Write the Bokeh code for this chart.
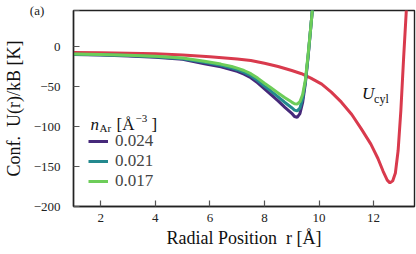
from bokeh.plotting import figure
from bokeh.models import Label, Legend, LegendItem, FixedTicker, Range1d
from bokeh.embed import file_html
from bokeh.resources import INLINE

# ---- data ----
r_atom = [1, 2, 3, 4, 5, 5.8, 6.4, 6.8, 7.0, 7.25, 7.5, 7.75, 8.0, 8.25, 8.5,
          8.75, 9.0, 9.1, 9.2, 9.3, 9.4, 9.5, 9.6, 9.7, 9.8]
u_024 = [-10, -10.6, -11.8, -13.3, -16, -21.5, -25.5, -29, -31, -34.5, -39, -45.5, -53, -60.5, -68,
         -76, -83.5, -87.5, -88.5, -84, -70, -46, -13, 25, 62]
u_021 = [-9.8, -10.3, -11.4, -12.8, -15.2, -19.7, -23.5, -27, -29, -32.3, -36.5, -42.5, -49.5, -56, -63,
         -70, -76.5, -79.5, -80.5, -77, -65, -44, -12, 25, 62]
u_017 = [-9.5, -10, -11, -12.3, -14.5, -18.5, -22, -25, -27, -30, -34, -39.5, -46, -52, -58,
         -64, -69.5, -71.5, -72, -69, -60, -42, -10, 25, 62]
r_cyl = [1, 2, 3, 4, 5, 6, 7, 7.5, 8, 8.5, 9, 9.36, 9.7, 10.1, 10.45, 10.82, 11.2, 11.55,
         11.9, 12.16, 12.35, 12.5, 12.6, 12.7, 12.8, 12.9, 13.0, 13.1, 13.2, 13.25]
u_cyl = [-7.5, -7.8, -8.3, -9, -10.5, -12.7, -15.5, -17.5, -21, -25, -30, -34, -39.5, -47, -57, -69.6,
         -85, -103, -122, -140, -156, -167, -170.5, -168, -158, -130, -80, -15, 45, 75]
densities = ["0.024", "0.021", "0.017"]
x_ticks = [2, 4, 6, 8, 10, 12]
y_ticks = [-200, -150, -100, -50, 0]
x_title = "Radial Position\u00a0\u00a0r [Å]"
y_title = "Conf.\u00a0\u00a0U(r)/kB [K]"
panel_tag = "(a)"

colors = {"0.024": "#46297a", "0.021": "#23898e", "0.017": "#6dcd59"}
red = "#d93a4d"
SERIF = "Liberation Serif"

p = figure(width=416, height=254, output_backend="svg", toolbar_location=None,
           x_range=Range1d(1, 13.5), y_range=Range1d(-200, 45),
           min_border_left=71, min_border_right=2, min_border_top=10, min_border_bottom=48)
p.grid.visible = False
p.background_fill_color = "white"
p.outline_line_color = "#222222"
p.outline_line_width = 1.4
p.outline_line_alpha = 1.0

for ax in (p.xaxis, p.yaxis):
    ax.axis_line_color = "#222222"
    ax.axis_line_width = 1.4
    ax.major_tick_in = 6
    ax.major_tick_out = 0
    ax.major_tick_line_color = "#555555"
    ax.major_tick_line_width = 1.2
    ax.minor_tick_line_color = None
    ax.major_label_text_font = SERIF
    ax.major_label_text_font_size = "13px"
    ax.major_label_text_color = "#222222"
    ax.axis_label_text_font = SERIF
    ax.axis_label_text_font_size = "18px"
    ax.axis_label_text_font_style = "normal"
    ax.axis_label_text_color = "#111111"
    ax.axis_label_standoff = 3

p.xaxis.ticker = FixedTicker(ticks=x_ticks)
p.xaxis.major_label_standoff = 7
p.xaxis.axis_label = x_title

# the panel tag "(a)" sits at the top-left corner, beside the top of the y axis
top = p.y_range.end
p.yaxis.ticker = FixedTicker(ticks=y_ticks + [top])
overrides = {t: ("\u2212" + str(-t) if t < 0 else str(t)) for t in y_ticks}
overrides[top] = panel_tag + "\u00a0" * 5
p.yaxis.major_label_overrides = overrides
p.yaxis.major_label_standoff = 13
p.yaxis.axis_label = y_title

p.line(r_cyl, u_cyl, line_color=red, line_width=3)
renderers = {}
for d, u in (("0.024", u_024), ("0.021", u_021), ("0.017", u_017)):
    renderers[d] = p.line(r_atom, u, line_color=colors[d], line_width=3)

legend = Legend(items=[LegendItem(label=d, renderers=[renderers[d]]) for d in densities],
                location=(15, 15), orientation="vertical",
                glyph_width=20, glyph_height=20, label_height=20, spacing=0,
                padding=0, margin=0, label_standoff=7,
                label_text_font=SERIF, label_text_font_size="17px",
                label_text_baseline="middle",
                border_line_color=None, background_fill_alpha=0)
p.add_layout(legend, "center")


def lab(x, y, text, size="16px", style="normal"):
    p.add_layout(Label(x=x, y=y, x_units="screen", y_units="screen", text=text,
                       text_font=SERIF, text_font_size=size, text_font_style=style,
                       text_color="#111111", text_align="left",
                       text_baseline="alphabetic"))


# legend title: n_Ar [Å^-3] (inside the frame)
lab(17, 82, "n", "17px", "italic")
lab(26, 79, "Ar", "11px")
lab(43, 82, "[Å", "17px")
lab(62, 88, "\u22123", "11px")
lab(78, 82, "]", "17px")

# U_cyl annotation
p.add_layout(Label(x=11.58, y=-70, text="U", text_font=SERIF, text_font_size="17px",
                   text_font_style="italic", text_color="#111111"))
p.add_layout(Label(x=11.58, y=-70, x_offset=12, y_offset=-3, text="cyl", text_font=SERIF,
                   text_font_size="12px", text_color="#111111"))

open("out.html", "w").write(file_html(p, INLINE))
